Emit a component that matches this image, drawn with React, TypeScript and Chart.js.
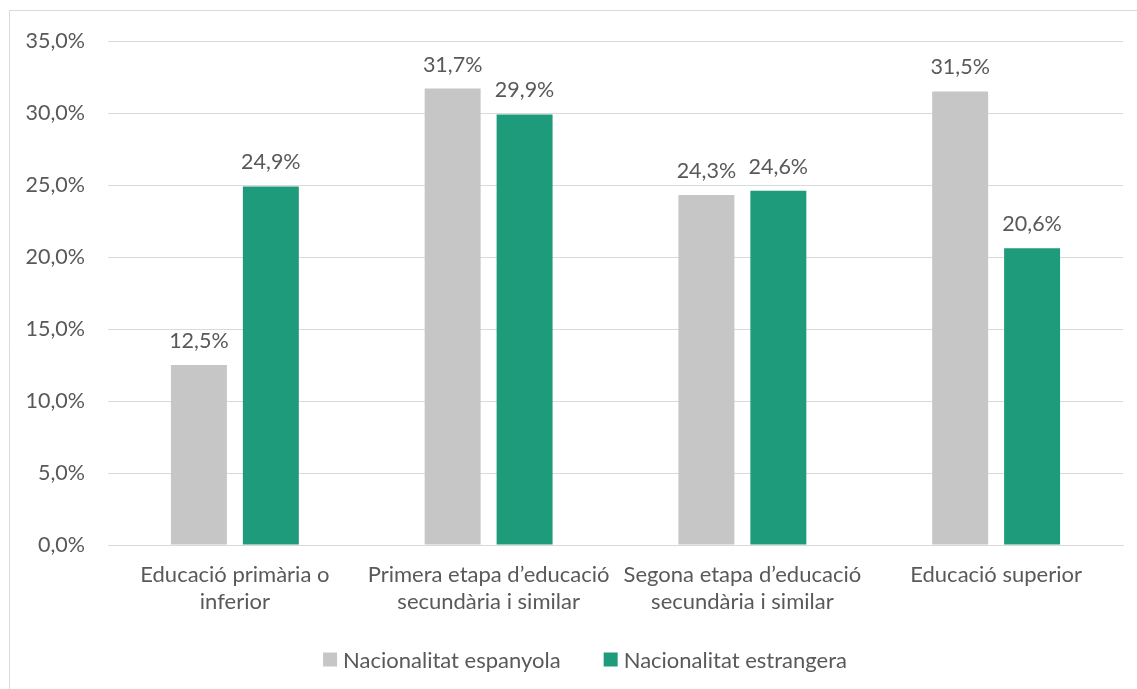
import React, { useEffect, useRef } from "react";
import { Chart, registerables } from "chart.js";

Chart.register(...registerables);

const categories: string[][] = [
  ["Educació primària o", "inferior"],
  ["Primera etapa d’educació", "secundària i similar"],
  ["Segona etapa d’educació", "secundària i similar"],
  ["Educació superior"],
];
const seriesNames = ["Nacionalitat espanyola", "Nacionalitat estrangera"];
const espanyola = [12.5, 31.7, 24.3, 31.5];
const estrangera = [24.9, 29.9, 24.6, 20.6];
const yTicks = [0, 5, 10, 15, 20, 25, 30, 35];

const FONT = "Lato, 'Open Sans', sans-serif";
const TEXT = "#595959";
const GRAY = "#C6C6C6";
const GREEN = "#1E9B7A";

const fmt = (v: number) => v.toFixed(1).replace(".", ",") + "%";

const decorPlugin = {
  id: "decor",
  afterDraw(chart: any) {
    const ctx = chart.ctx;
    ctx.save();
    // chart box border (left & top visible)
    ctx.strokeStyle = "#D9D9D9";
    ctx.lineWidth = 1;
    ctx.beginPath();
    ctx.moveTo(9.5, 700);
    ctx.lineTo(9.5, 10.5);
    ctx.lineTo(1140, 10.5);
    ctx.stroke();

    // data labels
    ctx.font = `21.5px ${FONT}`;
    ctx.fillStyle = TEXT;
    ctx.textAlign = "center";
    ctx.textBaseline = "alphabetic";
    chart.data.datasets.forEach((ds: any, di: number) => {
      const meta = chart.getDatasetMeta(di);
      meta.data.forEach((bar: any, i: number) => {
        ctx.fillText(fmt(ds.data[i]), bar.x, bar.y - 17);
      });
    });

    // legend
    ctx.font = `22px ${FONT}`;
    const box = 14;
    const gapBoxText = 6;
    const gapItems = 43;
    ctx.textAlign = "left";
    ctx.textBaseline = "middle";
    const widths = chart.data.datasets.map((ds: any) => ctx.measureText(ds.label).width);
    const total = widths.reduce((a: number, w: number) => a + box + gapBoxText + w, 0) + gapItems * (widths.length - 1);
    let x = 585 - total / 2;
    const cy = 659.5;
    chart.data.datasets.forEach((ds: any, di: number) => {
      ctx.fillStyle = ds.backgroundColor;
      ctx.fillRect(x, cy - box / 2, box, box);
      x += box + gapBoxText;
      ctx.fillStyle = TEXT;
      ctx.fillText(ds.label, x, cy + 1);
      x += widths[di] + gapItems;
    });
    ctx.restore();
  },
};

export default function App() {
  const ref = useRef<HTMLCanvasElement | null>(null);
  useEffect(() => {
    if (!ref.current) return;
    const chart = new Chart(ref.current, {
      type: "bar",
      data: {
        labels: categories,
        datasets: [
          { label: seriesNames[0], data: espanyola, backgroundColor: GRAY },
          { label: seriesNames[1], data: estrangera, backgroundColor: GREEN },
        ],
      },
      options: {
        animation: false,
        responsive: false,
        devicePixelRatio: 1,
        layout: { padding: { left: 0, right: 14, top: 41, bottom: 0 } },
        datasets: { bar: { categoryPercentage: 0.567, barPercentage: 0.778 } },
        plugins: { legend: { display: false }, tooltip: { enabled: false } },
        scales: {
          x: {
            grid: { display: false, drawTicks: false },
            border: { display: true, color: "#D9D9D9", width: 1 },
            ticks: {
              color: TEXT,
              font: { family: FONT, size: 22, lineHeight: 27 / 22 },
              padding: 16,
              maxRotation: 0,
              autoSkip: false,
            },
            afterFit: (s: any) => {
              s.height = 144;
            },
          },
          y: {
            min: 0,
            max: 35,
            afterBuildTicks: (s: any) => {
              s.ticks = yTicks.map((v) => ({ value: v }));
            },
            grid: { color: "#D9D9D9", drawTicks: false, lineWidth: 1 },
            border: { display: false },
            ticks: {
              color: TEXT,
              font: { family: FONT, size: 21.5 },
              padding: 23,
              callback: (v: any) => fmt(Number(v)),
            },
            afterFit: (s: any) => {
              s.width = 108;
            },
          },
        },
      },
      plugins: [decorPlugin],
    });
    return () => chart.destroy();
  }, []);
  return (
    <div style={{ position: "fixed", left: 0, top: 0, width: 1137, height: 689, background: "#fff" }}>
      <canvas ref={ref} width={1137} height={689} style={{ display: "block" }} />
    </div>
  );
}
